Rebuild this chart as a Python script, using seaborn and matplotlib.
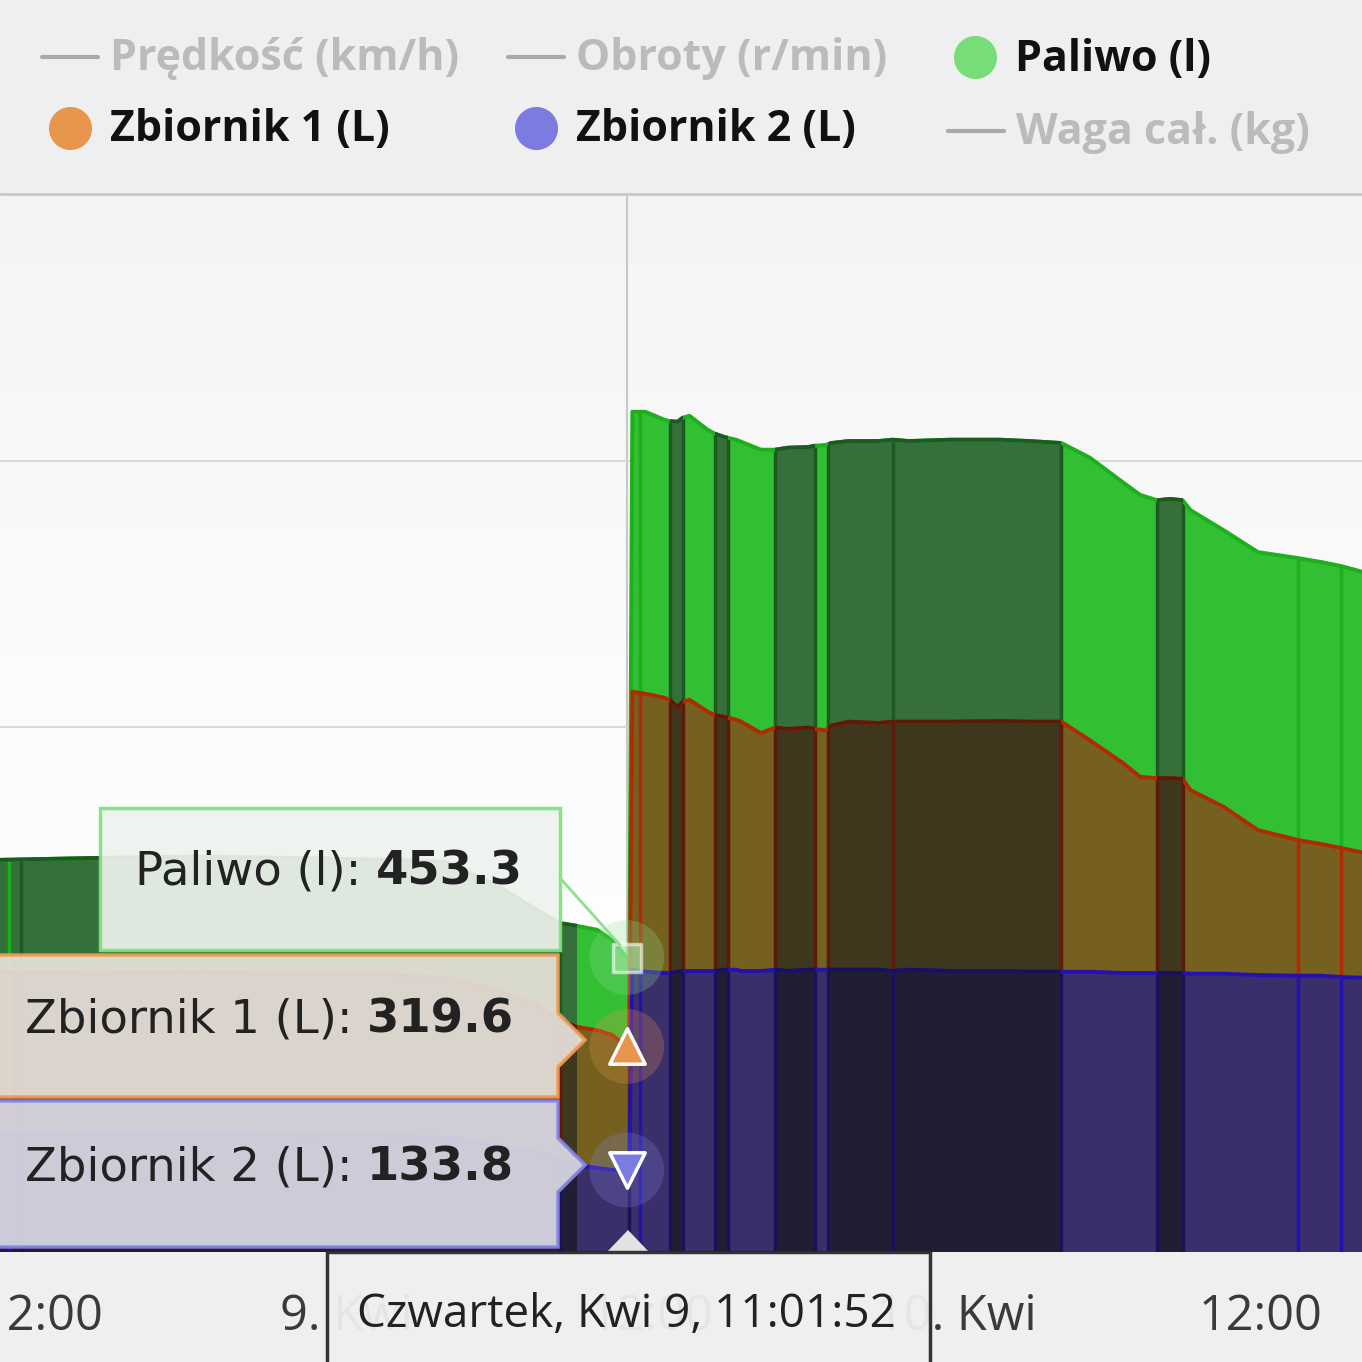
import numpy as np
import pandas as pd
import seaborn as sns
import matplotlib.pyplot as plt
import matplotlib.dates as mdates
from matplotlib.patches import Polygon, Rectangle
from matplotlib.lines import Line2D

# --- data -------------------------------------------------------------------
times = [
    "2020-04-08 10:06", "2020-04-08 14:04", "2020-04-08 18:01", "2020-04-08 21:59",
    "2020-04-09 01:56", "2020-04-09 03:55", "2020-04-09 05:54", "2020-04-09 07:29",
    "2020-04-09 08:24", "2020-04-09 09:04", "2020-04-09 09:52", "2020-04-09 10:27",
    "2020-04-09 11:01:52", "2020-04-09 11:08", "2020-04-09 11:15", "2020-04-09 11:46",
    "2020-04-09 12:31", "2020-04-09 12:43", "2020-04-09 13:02", "2020-04-09 13:14",
    "2020-04-09 13:30", "2020-04-09 14:13", "2020-04-09 14:30", "2020-04-09 14:53",
    "2020-04-09 15:20", "2020-04-09 15:32", "2020-04-09 16:19", "2020-04-09 16:52",
    "2020-04-09 17:23", "2020-04-09 18:11", "2020-04-09 18:27", "2020-04-09 18:51",
    "2020-04-09 19:05", "2020-04-09 19:46", "2020-04-09 20:57", "2020-04-09 21:30",
    "2020-04-09 22:08", "2020-04-09 23:46", "2020-04-10 01:42", "2020-04-10 02:53",
    "2020-04-10 04:09", "2020-04-10 05:16", "2020-04-10 06:34", "2020-04-10 07:15",
    "2020-04-10 07:55", "2020-04-10 08:26", "2020-04-10 08:55", "2020-04-10 09:14",
    "2020-04-10 10:32", "2020-04-10 11:53", "2020-04-10 13:28", "2020-04-10 14:23",
    "2020-04-10 15:10", "2020-04-10 16:02",
]
paliwo = [
    600, 603, 605, 603, 600, 597, 562, 525, 505, 501, 495, 480, 453.3, 452,
    1274, 1274, 1262, 1260, 1259, 1265, 1268, 1247, 1241, 1236, 1232, 1229,
    1217, 1217, 1220, 1221, 1223, 1224, 1227, 1230, 1230, 1232, 1230, 1232,
    1232, 1230, 1227, 1205, 1168, 1149, 1141, 1143, 1141, 1126, 1096, 1063,
    1054, 1048, 1042, 1033,
]
zbiornik1 = [
    432, 430, 432, 429, 427, 423, 405, 382, 359, 349, 344, 337, 319.6, 319,
    853, 850, 844, 841, 830, 838, 841, 823, 818, 815, 811, 808, 791, 799,
    797, 799, 797, 795, 802, 808, 806, 808, 808, 808, 809, 808, 808, 780,
    746, 725, 723, 723, 722, 705, 680, 645, 630, 624, 618, 611,
]
zbiornik2 = [
    189, 188, 189, 186, 185, 182, 171, 161, 149, 141, 137, 134, 133.8, 133,
    435, 432, 430, 430, 432, 433, 433, 433, 433, 435, 435, 433, 433, 435,
    433, 435, 435, 435, 435, 435, 435, 433, 435, 433, 433, 432, 432, 432,
    430, 430, 430, 430, 430, 429, 429, 427, 426, 426, 424, 423,
]

# parked periods (darker segments)
dark_spans = [
    ("2020-04-08 09:00", "2020-04-09 09:04"),
    ("2020-04-09 12:43", "2020-04-09 13:14"),
    ("2020-04-09 14:30", "2020-04-09 15:01"),
    ("2020-04-09 16:52", "2020-04-09 18:27"),
    ("2020-04-09 18:58", "2020-04-10 04:09"),
    ("2020-04-10 07:55", "2020-04-10 08:55"),
]
bright_cuts = ["2020-04-08 10:42", "2020-04-09 11:34", "2020-04-10 13:28", "2020-04-10 15:10"]
dark_cuts = ["2020-04-08 11:10", "2020-04-09 08:24", "2020-04-09 11:08", "2020-04-09 21:30"]

tick_times = ["2020-04-08 12:00", "2020-04-09 00:00", "2020-04-09 12:00",
              "2020-04-10 00:00", "2020-04-10 12:00"]
tick_labels = ["12:00", "9. Kwi", "12:00", "10. Kwi", "12:00"]
hover_time = "2020-04-09 11:01:52"
hover_label = "Czwartek, Kwi 9, 11:01:52"

t = pd.to_datetime(pd.Series(times), format='ISO8601')
hover = pd.Timestamp(hover_time)

sns.set_theme(style="white")
plt.rcParams['font.family'] = ['Open Sans', 'DejaVu Sans']
TIP_FONT = ['DejaVu Sans']

W = 1362
YMIN, YMAX = 10.5, 1600
fig = plt.figure(figsize=(13.62, 13.62), dpi=100, facecolor='#efefef')


def P(x, y):
    # pixel position -> figure fraction
    return (x / W, 1 - y / W)


rect = [0, (W - 1252) / W, 1, (1252 - 195) / W]
bg = fig.add_axes(rect, zorder=-1)
grad = np.linspace(0, 1, 256).reshape(-1, 1)
bg.imshow(grad, cmap=sns.blend_palette(['#f4f4f4', '#fcfcfc', '#ffffff'], as_cmap=True),
          aspect='auto', extent=(0, 1, 0, 1), origin='upper')
bg.set_axis_off()

ax = fig.add_axes(rect)
ax.set_facecolor('none')

spans = [(mdates.date2num(pd.Timestamp(a)), mdates.date2num(pd.Timestamp(b))) for a, b in dark_spans]


def span_clip(a, b):
    return Rectangle((a, YMIN), b - a, YMAX - YMIN, transform=ax.transData)


def draw_series(vals, light, dark, line, line_dark, z):
    poly = ax.fill_between(t, 0, vals, color=light, lw=0, zorder=z)
    for a, b in spans:
        f = ax.fill_between(t, 0, vals, color=dark, lw=0, zorder=z + 0.1)
        f.set_clip_path(span_clip(a, b))
    path = poly.get_paths()[0]
    edges_dark = [pd.Timestamp(c) for c in dark_cuts] + \
        [pd.Timestamp(s) for pair in dark_spans[1:] for s in pair]
    vd = ax.vlines(edges_dark, 0, 3000, color=line_dark, lw=2.5, zorder=z + 0.2)
    vd.set_clip_path(path, ax.transData)
    vb = ax.vlines(pd.to_datetime(bright_cuts), 0, 3000, color=line, lw=2.5, zorder=z + 0.2)
    vb.set_clip_path(path, ax.transData)
    sns.lineplot(x=t, y=vals, color=line, lw=2.8, ax=ax, zorder=z + 0.3)
    for a, b in spans:
        ln, = ax.plot(t, vals, color=line_dark, lw=2.8, zorder=z + 0.35)
        ln.set_clip_path(span_clip(a, b))


ax.axvline(hover, color='#c8c8c8', lw=1.5, zorder=0.5)
draw_series(paliwo, '#33bf33', '#35703a', '#1cb01c', '#1d5a20', 1)
draw_series(zbiornik1, '#75601f', '#3f361e', '#b02a05', '#5c1a08', 2)
draw_series(zbiornik2, '#3b2f6b', '#211d33', '#2412b0', '#17125a', 3)

# hover markers
hv = [paliwo[times.index(hover_time)], zbiornik1[times.index(hover_time)],
      zbiornik2[times.index(hover_time)]]
ax.scatter([hover] * 3, hv, s=2900, c=['#8fe08f', '#e8964e', '#8585e0'],
           alpha=0.25, lw=0, zorder=5)
ax.scatter([hover], [hv[0]], marker='s', s=430, c='#a8e8a8', alpha=0.6,
           edgecolors='white', linewidths=2.5, zorder=6)
ax.scatter([hover], [hv[1]], marker='^', s=650, c='#e8964e',
           edgecolors='white', linewidths=2.5, zorder=6)
ax.scatter([hover], [hv[2]], marker='v', s=650, c='#7b7be0',
           edgecolors='white', linewidths=2.5, zorder=6)

ax.set_xlim(pd.Timestamp("2020-04-08 10:21"), pd.Timestamp("2020-04-10 15:59"))
ax.set_ylim(YMIN, YMAX)
ax.set_yticks([400, 800, 1200])
ax.set_yticklabels([])
ax.yaxis.grid(True, color='#d9d9d9', lw=1.5)
ax.set_axisbelow(True)
ax.set_xticks(pd.to_datetime(tick_times))
ax.set_xticklabels(tick_labels)
ax.tick_params(axis='x', length=25, width=1.5, color='#c3d0e0', labelsize=35,
               labelcolor='#3a3a3a', pad=4)
ax.tick_params(axis='y', length=0)
ax.set_xlabel('')
ax.set_ylabel('')
for s in ax.spines.values():
    s.set_visible(False)

# legend strip
fig.add_artist(Line2D([0, 1], [P(0, 194)[1]] * 2, color='#c9c9c9', lw=2))
legend_items = [
    ("line", 42, 57, "Prędkość (km/h)", '#bbbbbb'),
    ("line", 508, 57, "Obroty (r/min)", '#bbbbbb'),
    ("dot", 975, 57, "Paliwo (l)", '#77dd77'),
    ("dot", 70, 128, "Zbiornik 1 (L)", '#e8964e'),
    ("dot", 536, 128, "Zbiornik 2 (L)", '#7b7be0'),
    ("line", 948, 131, "Waga cał. (kg)", '#bbbbbb'),
]
for kind, x, y, label, col in legend_items:
    if kind == "line":
        x0, y0 = P(x, y)
        x1, _ = P(x + 56, y)
        fig.add_artist(Line2D([x0, x1], [y0, y0], color='#aaaaaa', lw=3))
        fig.text(*P(x + 68, y + 2), label, color='#bbbbbb', fontsize=31,
                 fontweight='bold', va='center')
    else:
        fig.add_artist(Line2D([P(x, y)[0]], [P(x, y)[1]], marker='o', ms=31,
                              color=col, mew=0))
        fig.text(*P(x + 40, y + 2), label, color='#111111', fontsize=31,
                 fontweight='bold', va='center')

# tooltips
boxes = [
    ([(100, 808), (560, 808), (560, 950), (100, 950)], '#eef3ee', '#80e080'),
    ([(-5, 955), (558, 955), (558, 1013), (585, 1040), (558, 1067), (558, 1097), (-5, 1097)],
     '#e9e3dc', '#f09a50'),
    ([(-5, 1101), (558, 1101), (558, 1138), (585, 1165), (558, 1192), (558, 1247), (-5, 1247)],
     '#dcdbe6', '#8585e8'),
]
for pts, face, edge in boxes:
    fig.add_artist(Polygon([P(x, y) for x, y in pts], closed=True, facecolor=face,
                           edgecolor=edge, lw=2.5, alpha=0.92, zorder=10))
fig.add_artist(Line2D([P(560, 878)[0], P(620, 945)[0]], [P(560, 878)[1], P(620, 945)[1]],
                      color='#90e090', lw=2, zorder=10))

rows = [("Paliwo (l): ", f"{hv[0]:.1f}", 135, 872),
        ("Zbiornik 1 (L): ", f"{hv[1]:.1f}", 25, 1020),
        ("Zbiornik 2 (L): ", f"{hv[2]:.1f}", 25, 1168)]
for lab, val, x, y in rows:
    lt = fig.text(*P(x, y), lab, fontsize=33.5, color='#222222', va='center',
                  family=TIP_FONT, zorder=11)
    fig.add_artist(plt.Annotation(val, xy=(1, 0), xycoords=lt, va='bottom',
                                  fontsize=33.5, color='#222222', fontweight='bold',
                                  family=TIP_FONT, zorder=11))

# x-axis hover label
fig.add_artist(Polygon([P(606, 1253), P(628, 1230), P(650, 1253)], closed=True,
                       facecolor='#e2e2e2', edgecolor='none', zorder=10))
fig.add_artist(Polygon([P(327, 1252), P(930, 1252), P(930, 1380), P(327, 1380)], closed=True,
                       facecolor='#efefef', edgecolor='#2a2a2a', lw=2.5, alpha=0.95, zorder=10))
fig.text(*P(626, 1315), hover_label, fontsize=33, color='#222222', ha='center',
         va='center', zorder=11)

fig.savefig('out.png', dpi=100, facecolor=fig.get_facecolor())
